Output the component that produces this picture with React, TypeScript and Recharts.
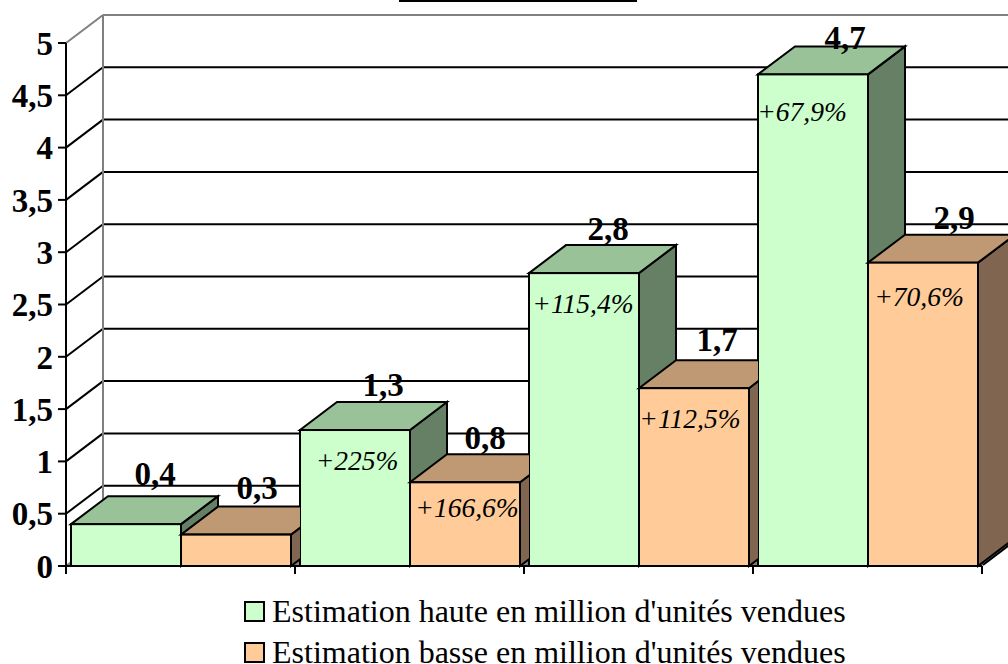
import { Bar, BarChart, CartesianGrid, LabelList, Legend, XAxis, YAxis } from "recharts"

const categories = ["1", "2", "3", "4"]
const hauteValues = [0.4, 1.3, 2.8, 4.7]
const basseValues = [0.3, 0.8, 1.7, 2.9]
const hautePercents = ["", "+225%", "+115,4%", "+67,9%"]
const bassePercents = ["", "+166,6%", "+112,5%", "+70,6%"]
const yTicks = [0, 0.5, 1, 1.5, 2, 2.5, 3, 3.5, 4, 4.5, 5]

const HAUTE_NAME = "Estimation haute en million d'unités vendues"
const BASSE_NAME = "Estimation basse en million d'unités vendues"

const data = categories.map((name, i) => ({
  name,
  haute: hauteValues[i],
  basse: basseValues[i],
}))

// label placement relative to the bar top, the original is not regular about it
const hauteValueNudge = [[29, -39], [28, -34], [24, -33], [32, -25]]
const basseValueNudge = [[21, -36], [20, -33], [23, -37], [31, -34]]
const hautePercentNudge = [[0, 0], [2, 40], [-1, 40], [-11, 47]]
const bassePercentNudge = [[0, 0], [2, 35], [-4, 40], [-4, 43]]

const CHART_W = 1040
const CHART_H = 664
const PLOT_TOP = 43
const PLOT_BOTTOM = 566
const XAXIS_H = 10
const DX = 37
const DY = -28
const GAP = 5
const GRAY = "#808080"
const SERIF = "'Liberation Serif', 'Times New Roman', serif"

function WallLine(props: any) {
  const { x1, x2, y1 } = props
  const isTop = y1 < PLOT_TOP + 1
  const isFloor = y1 > PLOT_BOTTOM - 1
  const color = isTop ? GRAY : "#000"
  return (
    <g>
      {isTop && (
        <line x1={x1 + DX} y1={y1 + DY} x2={x1 + DX} y2={PLOT_BOTTOM + DY} stroke={GRAY} strokeWidth={2} />
      )}
      {isFloor && (
        <g>
          <polygon
            points={`${x1},${y1} ${x2},${y1} ${x2 + DX},${y1 + DY} ${x1 + DX},${y1 + DY}`}
            fill={GRAY}
            stroke="none"
          />
          <line x1={x2 + 1} y1={y1 - 1} x2={x2 + DX + 1} y2={y1 + DY - 1} stroke="#000" strokeWidth={2} />
        </g>
      )}
      <line x1={x1} y1={y1} x2={x1 + DX} y2={y1 + DY} stroke={isFloor ? GRAY : color} strokeWidth={2} />
      <line x1={x1 + DX} y1={y1 + DY} x2={x2 + DX} y2={y1 + DY} stroke={color} strokeWidth={2} />
    </g>
  )
}

function makeBox(topFill: string, sideFill: string, clipNext: boolean) {
  return function Box(props: any) {
    const { x, y, width, height, fill, index } = props
    const r = x + width
    const b = y + height
    const id = `box-clip-${index}`
    const clipped = clipNext && index < categories.length - 1
    return (
      <g clipPath={clipped ? `url(#${id})` : undefined}>
        {clipped && (
          <clipPath id={id}>
            <rect x={x - 5} y={0} width={width + 2 * GAP + 4} height={CHART_H} />
          </clipPath>
        )}
        <polygon
          points={`${r},${y} ${r + DX},${y + DY} ${r + DX},${b + DY} ${r},${b}`}
          fill={sideFill}
          stroke="#000"
          strokeWidth={2}
        />
        <polygon
          points={`${x},${y} ${x + DX},${y + DY} ${r + DX},${y + DY} ${r},${y}`}
          fill={topFill}
          stroke="#000"
          strokeWidth={2}
        />
        <rect x={x} y={y} width={width} height={height} fill={fill} stroke="#000" strokeWidth={2} />
      </g>
    )
  }
}

function makeLabel(nudge: number[][], percents: string[] | null) {
  return function BarLabel(props: any) {
    const { index, value } = props
    const box = props.viewBox || props
    const cx = box.x + box.width / 2
    const [dx, dy] = nudge[index]
    if (percents) {
      if (!percents[index]) return null
      return (
        <text
          x={cx + dx}
          y={box.y + dy}
          textAnchor="middle"
          fontFamily={SERIF}
          fontStyle="italic"
          fontSize={27.5}
          fill="#000"
        >
          {percents[index]}
        </text>
      )
    }
    return (
      <text
        x={cx + dx}
        y={box.y + dy}
        textAnchor="middle"
        fontFamily={SERIF}
        fontWeight="bold"
        fontSize={33}
        fill="#000"
      >
        {String(value).replace(".", ",")}
      </text>
    )
  }
}

function BoundaryTick(props: any) {
  const { x, index, visibleTicksCount, width } = props
  const band = width / visibleTicksCount
  const left = x - band / 2
  return (
    <g>
      <line x1={left} y1={PLOT_BOTTOM} x2={left} y2={PLOT_BOTTOM + 8} stroke="#000" strokeWidth={2} />
      {index === visibleTicksCount - 1 && (
        <line x1={x + band / 2} y1={PLOT_BOTTOM} x2={x + band / 2} y2={PLOT_BOTTOM + 8} stroke="#000" strokeWidth={2} />
      )}
    </g>
  )
}

function LegendRows({ payload }: any) {
  return (
    <div style={{ fontFamily: SERIF, fontSize: 32, color: "#000" }}>
      {(payload || []).map((item: any) => (
        <div key={item.value} style={{ display: "flex", alignItems: "center", height: 41, whiteSpace: "nowrap" }}>
          <span
            style={{
              display: "inline-block",
              boxSizing: "border-box",
              width: 21,
              height: 21,
              marginRight: 7,
              background: item.color,
              border: "2px solid #000",
            }}
          />
          {item.value}
        </div>
      ))}
    </div>
  )
}

export default function App() {
  return (
    <div style={{ position: "absolute", left: 0, top: 0, width: 1008, height: 664, overflow: "hidden", background: "#fff" }}>
      <div style={{ position: "absolute", left: 399, top: 0, width: 238, height: 2, background: "#000" }} />
      <BarChart
        width={CHART_W}
        height={CHART_H}
        data={data}
        margin={{ top: PLOT_TOP, right: CHART_W - 982, bottom: CHART_H - PLOT_BOTTOM - XAXIS_H, left: 0 }}
        barCategoryGap={GAP}
        barGap={0}
      >
        <CartesianGrid horizontal={WallLine} vertical={false} />
        <XAxis
          dataKey="name"
          axisLine={{ stroke: "#000", strokeWidth: 2 }}
          tickLine={false}
          interval={0}
          height={XAXIS_H}
          tick={BoundaryTick}
        />
        <YAxis
          width={66}
          domain={[0, 5]}
          ticks={yTicks}
          interval={0}
          tickSize={8}
          tickMargin={5}
          axisLine={{ stroke: "#000", strokeWidth: 2 }}
          tickLine={{ stroke: "#000", strokeWidth: 2 }}
          tick={{ fill: "#000", fontSize: 33, fontWeight: "bold", fontFamily: SERIF }}
          tickFormatter={(v: number) => String(v).replace(".", ",")}
        />
        <Legend
          layout="vertical"
          align="center"
          verticalAlign="middle"
          itemSorter={null}
          content={LegendRows}
          wrapperStyle={{ left: 244, top: 591, width: 760, bottom: "auto" }}
        />
        <Bar
          dataKey="haute"
          name={HAUTE_NAME}
          fill="#CCFFCC"
          isAnimationActive={false}
          shape={makeBox("#99C299", "#668066", false)}
        >
          <LabelList dataKey="haute" content={makeLabel(hauteValueNudge, null)} />
          <LabelList dataKey="haute" content={makeLabel(hautePercentNudge, hautePercents)} />
        </Bar>
        <Bar
          dataKey="basse"
          name={BASSE_NAME}
          fill="#FFCC99"
          isAnimationActive={false}
          shape={makeBox("#BF9973", "#806650", true)}
        >
          <LabelList dataKey="basse" content={makeLabel(basseValueNudge, null)} />
          <LabelList dataKey="basse" content={makeLabel(bassePercentNudge, bassePercents)} />
        </Bar>
      </BarChart>
    </div>
  )
}
